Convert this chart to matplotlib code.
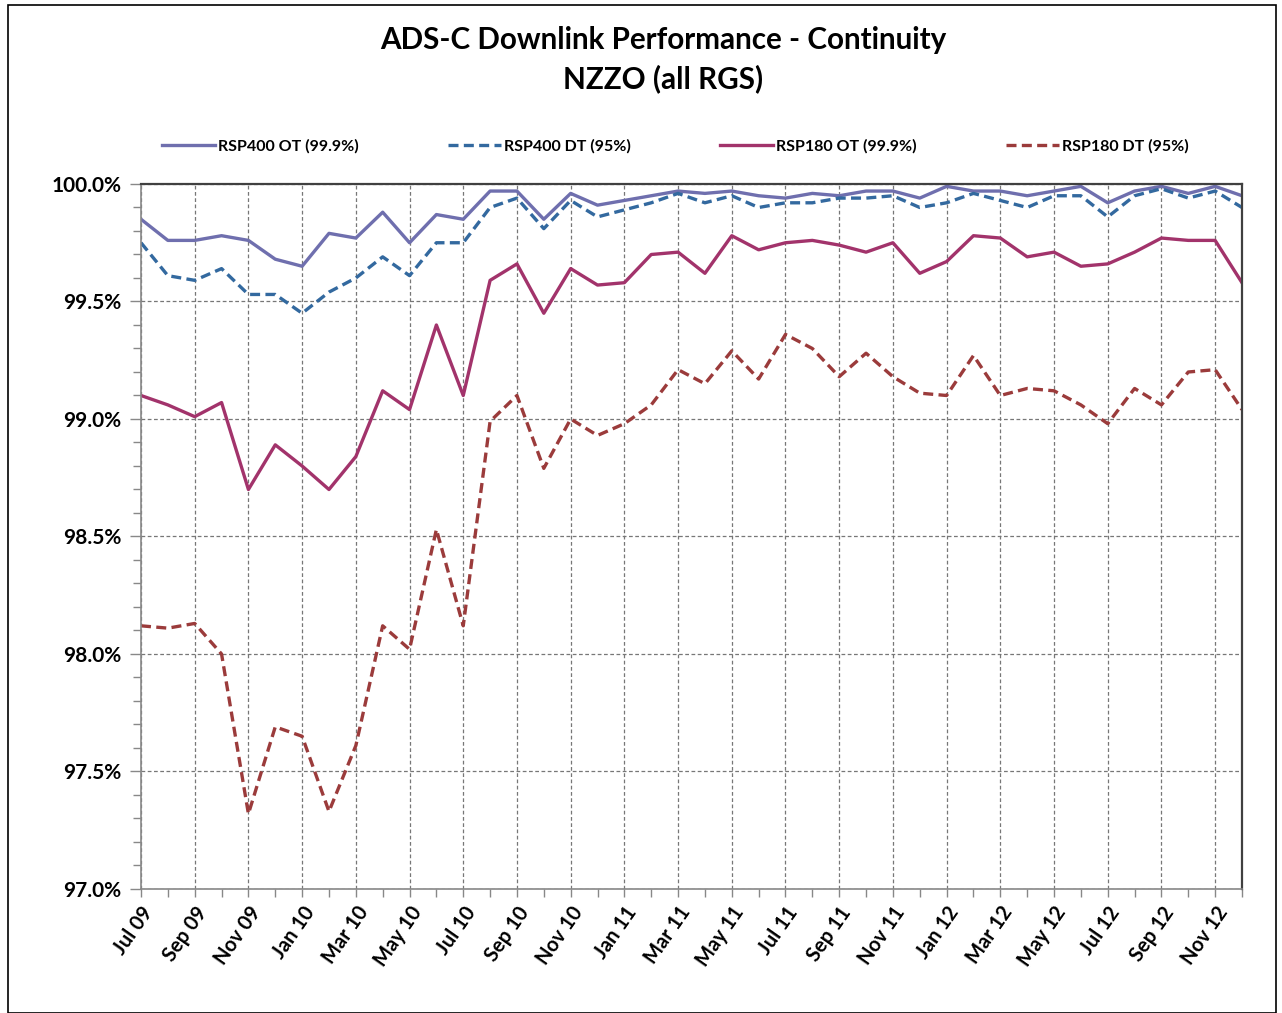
#!/usr/bin/env python3
"""ADS-C downlink continuity chart, NZZO (all RGS)."""

import matplotlib

matplotlib.use("Agg")
import matplotlib.pyplot as plt
import pandas as pd
from matplotlib.lines import Line2D
from matplotlib.patches import Rectangle
from matplotlib.ticker import FixedLocator, MultipleLocator, PercentFormatter

plt.rcParams["font.family"] = ["Lato", "DejaVu Sans"]

months = pd.date_range("2009-07-01", periods=42, freq="MS")
month_labels = [m.strftime("%b %y") for m in months]

rsp400_ot = [
    99.85, 99.76, 99.76, 99.78, 99.76, 99.68, 99.65, 99.79, 99.77, 99.88,
    99.75, 99.87, 99.85, 99.97, 99.97, 99.85, 99.96, 99.91, 99.93, 99.95,
    99.97, 99.96, 99.97, 99.95, 99.94, 99.96, 99.95, 99.97, 99.97, 99.94,
    99.99, 99.97, 99.97, 99.95, 99.97, 99.99, 99.92, 99.97, 99.99, 99.96,
    99.99, 99.95,
]
rsp400_dt = [
    99.75, 99.61, 99.59, 99.64, 99.53, 99.53, 99.45, 99.54, 99.60, 99.69,
    99.61, 99.75, 99.75, 99.90, 99.94, 99.81, 99.93, 99.86, 99.89, 99.92,
    99.96, 99.92, 99.95, 99.90, 99.92, 99.92, 99.94, 99.94, 99.95, 99.90,
    99.92, 99.96, 99.93, 99.90, 99.95, 99.95, 99.86, 99.95, 99.98, 99.94,
    99.97, 99.90,
]
rsp180_ot = [
    99.10, 99.06, 99.01, 99.07, 98.70, 98.89, 98.80, 98.70, 98.84, 99.12,
    99.04, 99.40, 99.10, 99.59, 99.66, 99.45, 99.64, 99.57, 99.58, 99.70,
    99.71, 99.62, 99.78, 99.72, 99.75, 99.76, 99.74, 99.71, 99.75, 99.62,
    99.67, 99.78, 99.77, 99.69, 99.71, 99.65, 99.66, 99.71, 99.77, 99.76,
    99.76, 99.58,
]
rsp180_dt = [
    98.12, 98.11, 98.13, 98.00, 97.32, 97.69, 97.65, 97.33, 97.61, 98.12,
    98.02, 98.53, 98.12, 98.99, 99.10, 98.79, 99.00, 98.93, 98.98, 99.06,
    99.21, 99.15, 99.29, 99.17, 99.36, 99.30, 99.18, 99.28, 99.18, 99.11,
    99.10, 99.27, 99.10, 99.13, 99.12, 99.06, 98.98, 99.13, 99.06, 99.20,
    99.21, 99.04,
]

series = [
    ("RSP400 OT (99.9%)", rsp400_ot, "#6f6fae", "-"),
    ("RSP400 DT (95%)", rsp400_dt, "#33699f", (0, (3, 1.6))),
    ("RSP180 OT (99.9%)", rsp180_ot, "#a2336b", "-"),
    ("RSP180 DT (95%)", rsp180_dt, "#9b3b3b", (0, (3, 1.6))),
]

fig = plt.figure(figsize=(12.82, 10.13), dpi=100)
ax = fig.add_axes([141 / 1282, 1 - 889 / 1013, (1242 - 141) / 1282, (889 - 184) / 1013])

x = list(range(len(months)))
handles = []
for label, values, color, ls in series:
    ax.plot(x, values, color=color, linestyle=ls, linewidth=2.4, label=label)
    handles.append(Line2D([], [], color=color, linestyle=ls, linewidth=2.4))

ax.set_xlim(0, len(months) - 1)
ax.set_ylim(97.0, 100.0)

ax.xaxis.set_major_locator(FixedLocator(x[::2]))
ax.set_xticks(x[::2])
ax.set_xticklabels(month_labels[::2], rotation=55, ha="right", rotation_mode="anchor",
                   fontsize=14.5, fontweight="bold")
ax.xaxis.set_minor_locator(MultipleLocator(1))
ax.yaxis.set_major_locator(MultipleLocator(0.5))
ax.yaxis.set_minor_locator(MultipleLocator(0.1))
ax.yaxis.set_major_formatter(PercentFormatter(100, decimals=1))
for lab in ax.get_yticklabels():
    lab.set_fontsize(15)
    lab.set_fontweight("bold")

ax.tick_params(axis="both", which="both", direction="out", color="#888888", width=1)
ax.tick_params(axis="x", which="major", length=6, pad=4)
ax.tick_params(axis="x", which="minor", length=6)
ax.tick_params(axis="y", which="major", length=8, pad=6)
ax.tick_params(axis="y", which="minor", length=6)

ax.grid(True, which="major", color="#777777", linestyle=(0, (3, 2)), linewidth=0.9)
ax.set_axisbelow(True)
for side in ["left", "bottom"]:
    ax.spines[side].set_color("#888888")
    ax.spines[side].set_linewidth(1.2)
for side in ["top", "right"]:
    ax.spines[side].set_color("#404040")
    ax.spines[side].set_linewidth(1.6)

fig.text(0.517, 1 - 40 / 1013, "ADS-C Downlink Performance - Continuity", ha="center",
         va="center", fontsize=21.3, fontweight="bold")
fig.text(0.517, 1 - 79 / 1013, "NZZO (all RGS)", ha="center", va="center",
         fontsize=21.3, fontweight="bold")

fig.legend(handles, [s[0] for s in series], loc="center", ncol=4,
           bbox_to_anchor=(0.527, 1 - 146 / 1013), frameon=False, handlelength=3.3,
           columnspacing=5.6, handletextpad=0.2, prop={"size": 11.5, "weight": "bold"})

fig.patches.append(Rectangle((8 / 1282, 0), (1276 - 8) / 1282, 1 - 5 / 1013,
                             transform=fig.transFigure, fill=False, edgecolor="black",
                             linewidth=1.2))

fig.savefig("out.png", dpi=100)
plt.close(fig)
